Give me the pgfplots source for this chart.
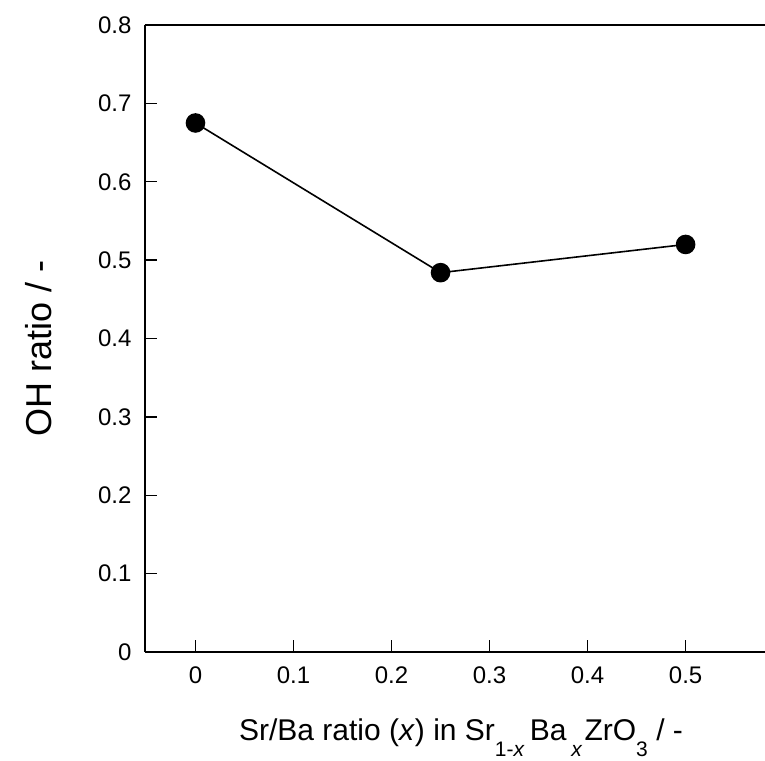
\documentclass[border=0pt]{standalone}
\usepackage{fontspec}
\setmainfont{Liberation Sans}
\usepackage{pgfplots}
\pgfplotsset{compat=1.18}
\newcommand{\sub}[1]{\raisebox{-16pt}{\fontsize{21}{21}\selectfont #1}}
\begin{document}
\begin{tikzpicture}[x=1pt,y=1pt]
\begin{axis}[
  scale only axis,
  width=620pt, height=627pt,
  xmin=-0.0515, xmax=0.581,
  ymin=0, ymax=0.8,
  axis x line*=bottom, axis y line*=left,
  axis line style={line width=1.8pt,-},
  xtick={0,0.1,0.2,0.3,0.4,0.5},
  ytick={0,0.1,0.2,0.3,0.4,0.5,0.6,0.7,0.8},
  tick align=inside,
  major tick length=12pt,
  tick style={line width=1.3pt,black},
  /pgf/number format/assume math mode=true,
  /pgf/number format/fixed,
  /pgf/number format/precision=1,
  tick label style={font=\fontsize{24}{24}\selectfont},
  xticklabel style={yshift=-11pt},
  yticklabel style={xshift=-10pt},
  xlabel={Sr/Ba ratio (\textit{x}) in Sr\sub{1-\textit{x}}\,Ba\hspace{5pt}\sub{\textit{x}}\hspace{2pt}ZrO\sub{3} / -},
  xlabel style={font=\fontsize{30}{30}\selectfont, at={(axis description cs:0.146,-0.1404)}, anchor=base west},
  ylabel={OH ratio / -},
  ylabel style={font=\fontsize{36}{36}\selectfont, at={(axis description cs:-0.172,0.484)}, anchor=center, rotate=0},
  clip=false,
]
\addplot[black, line width=1.6pt, mark=*, mark size=9pt, mark options={fill=black}]
  coordinates {(0,0.675) (0.25,0.484) (0.5,0.520)};
\draw[line width=1.8pt] (rel axis cs:0,1) -- (rel axis cs:1,1);
\end{axis}
\pgfresetboundingbox
\path (current axis.south west) ++(-145pt,-108pt) rectangle ++(765pt,760pt);
\end{tikzpicture}
\end{document}
